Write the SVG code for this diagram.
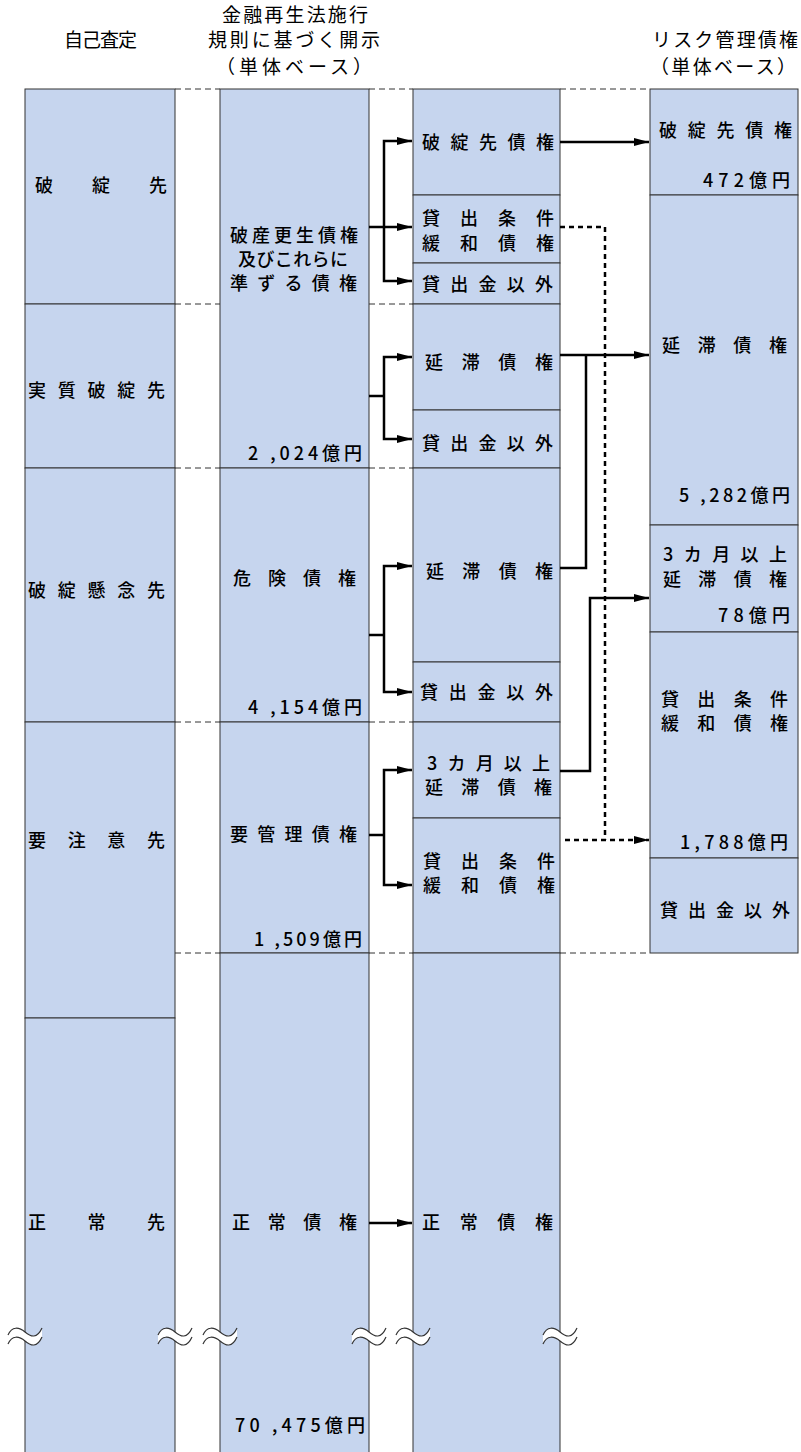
<svg xmlns="http://www.w3.org/2000/svg" xmlns:xlink="http://www.w3.org/1999/xlink" width="801" height="1452" viewBox="0 0 801 1452">
<style>
.t{font-family:"Noto Sans CJK JP","Noto Sans",sans-serif;font-size:18px;font-weight:500;fill:#000}
.h{font-size:19px;font-weight:400}
.box{fill:#c6d5ee;stroke:#333;stroke-width:1}
.dash{stroke:#333;stroke-width:1;stroke-dasharray:6 4;fill:none}
.con{fill:none;stroke:#000;stroke-width:2.5;stroke-linejoin:miter}
.dot{fill:none;stroke:#000;stroke-width:2.5;stroke-dasharray:5 4}
.brkfill{fill:#fff;stroke:none}
.brkline{fill:none;stroke:#333;stroke-width:1.2}
</style>
<defs>
<marker id="ah" markerUnits="userSpaceOnUse" markerWidth="16" markerHeight="10" refX="15" refY="5" orient="auto">
<path d="M0,1 L15,5 L0,9 Z" fill="#000"/>
</marker>
<g id="brk">
<path class="brkfill" d="M-17,-1 C-13,-10 -6,-9 0,-4 C6,1 12,3 17,-8 L17,1 C12,12 6,10 0,5 C-6,0 -13,-1 -17,8 Z"/>
<path class="brkline" d="M-17,-1 C-13,-10 -6,-9 0,-4 C6,1 12,3 17,-8"/>
<path class="brkline" d="M-17,8 C-13,-1 -6,0 0,5 C6,10 12,12 17,1"/>
</g>
</defs>

<g id="headers" class="t h">
<text x="64" y="47" textLength="73">自己査定</text>
<text x="222" y="22" textLength="146">金融再生法施行</text>
<text x="208" y="47" textLength="172">規則に基づく開示</text>
<text x="216" y="74" textLength="156">（単体ベース）</text>
<text x="652" y="47" textLength="146">リスク管理債権</text>
<text x="650" y="74" textLength="146">（単体ベース）</text>
</g>

<g id="guides">
<path class="dash" d="M175,89 H220 M369,89 H413 M560,89 H650"/>
<path class="dash" d="M175,304 H220 M369,304 H413"/>
<path class="dash" d="M175,468 H220 M369,468 H413"/>
<path class="dash" d="M175,722 H220 M369,722 H413"/>
<path class="dash" d="M175,953 H220 M369,953 H413 M560,953 H650"/>
</g>

<!-- column 1 -->
<g id="c1-hatan"><rect class="box" x="25" y="89" width="150" height="215"/><text class="t" x="35" y="192" textLength="132">破綻先</text></g>
<g id="c1-jisshitsu"><rect class="box" x="25" y="304" width="150" height="164"/><text class="t" x="28" y="397" textLength="137">実質破綻先</text></g>
<g id="c1-kenen"><rect class="box" x="25" y="468" width="150" height="254"/><text class="t" x="28" y="597" textLength="137">破綻懸念先</text></g>
<g id="c1-youchui"><rect class="box" x="25" y="722" width="150" height="296"/><text class="t" x="28" y="847" textLength="137">要注意先</text></g>
<g id="c1-seijou"><rect class="box" x="25" y="1018" width="150" height="445"/><text class="t" x="28" y="1229" textLength="137">正常先</text></g>

<!-- column 2 -->
<g id="c2-hasan"><rect class="box" x="220" y="89" width="149" height="379"/>
<text class="t" x="230" y="242" textLength="128">破産更生債権</text>
<text class="t" x="238" y="266" textLength="110">及びこれらに</text>
<text class="t" x="230" y="290" textLength="127">準ずる債権</text>
<text class="t" x="248" y="460" textLength="114">2 ,024億円</text></g>
<g id="c2-kiken"><rect class="box" x="220" y="468" width="149" height="254"/>
<text class="t" x="233" y="585" textLength="123">危険債権</text>
<text class="t" x="248" y="714" textLength="114">4 ,154億円</text></g>
<g id="c2-youkanri"><rect class="box" x="220" y="722" width="149" height="231"/>
<text class="t" x="230" y="841" textLength="127">要管理債権</text>
<text class="t" x="254" y="946" textLength="108">1 ,509億円</text></g>
<g id="c2-seijou"><rect class="box" x="220" y="953" width="149" height="510"/>
<text class="t" x="232" y="1229" textLength="125">正常債権</text>
<text class="t" x="235" y="1432" textLength="130">70 ,475億円</text></g>

<!-- column 3 -->
<g id="c3-hatan"><rect class="box" x="413" y="89" width="147" height="106"/><text class="t" x="422" y="149" textLength="132">破綻先債権</text></g>
<g id="c3-kanwa1"><rect class="box" x="413" y="195" width="147" height="68"/><text class="t" x="422" y="225" textLength="132">貸出条件</text><text class="t" x="422" y="250" textLength="132">緩和債権</text></g>
<g id="c3-igai1"><rect class="box" x="413" y="263" width="147" height="41"/><text class="t" x="422" y="291" textLength="131">貸出金以外</text></g>
<g id="c3-entai1"><rect class="box" x="413" y="304" width="147" height="106"/><text class="t" x="425" y="369" textLength="128">延滞債権</text></g>
<g id="c3-igai2"><rect class="box" x="413" y="410" width="147" height="58"/><text class="t" x="422" y="450" textLength="131">貸出金以外</text></g>
<g id="c3-entai2"><rect class="box" x="413" y="468" width="147" height="194"/><text class="t" x="426" y="578" textLength="127">延滞債権</text></g>
<g id="c3-igai3"><rect class="box" x="413" y="662" width="147" height="60"/><text class="t" x="420" y="699" textLength="133">貸出金以外</text></g>
<g id="c3-3kagetsu"><rect class="box" x="413" y="722" width="147" height="96"/><text class="t" x="427" y="770" textLength="123">3カ月以上</text><text class="t" x="425" y="794" textLength="127">延滞債権</text></g>
<g id="c3-kanwa2"><rect class="box" x="413" y="818" width="147" height="135"/><text class="t" x="423" y="868" textLength="132">貸出条件</text><text class="t" x="423" y="892" textLength="132">緩和債権</text></g>
<g id="c3-seijou"><rect class="box" x="413" y="953" width="147" height="510"/><text class="t" x="422" y="1229" textLength="131">正常債権</text></g>

<!-- column 4 -->
<g id="c4-hatan"><rect class="box" x="650" y="89" width="148" height="106"/><text class="t" x="659" y="137" textLength="133">破綻先債権</text><text class="t" x="703" y="187" textLength="87">472億円</text></g>
<g id="c4-entai"><rect class="box" x="650" y="195" width="148" height="330"/><text class="t" x="662" y="352" textLength="125">延滞債権</text><text class="t" x="679" y="502" textLength="111">5 ,282億円</text></g>
<g id="c4-3kagetsu"><rect class="box" x="650" y="525" width="148" height="107"/><text class="t" x="663" y="561" textLength="124">3カ月以上</text><text class="t" x="663" y="586" textLength="124">延滞債権</text><text class="t" x="718" y="622" textLength="72">78億円</text></g>
<g id="c4-kanwa"><rect class="box" x="650" y="632" width="148" height="226"/><text class="t" x="661" y="706" textLength="127">貸出条件</text><text class="t" x="661" y="730" textLength="127">緩和債権</text><text class="t" x="680" y="849" textLength="108">1,788億円</text></g>
<g id="c4-igai"><rect class="box" x="650" y="858" width="148" height="95"/><text class="t" x="660" y="917" textLength="130">貸出金以外</text></g>

<!-- connectors -->
<g id="connectors">
<path class="con" d="M369,227 H412" marker-end="url(#ah)"/>
<path class="con" d="M384,227 V141 H412" marker-end="url(#ah)"/>
<path class="con" d="M384,227 V281 H412" marker-end="url(#ah)"/>
<path class="con" d="M369,396 H384"/>
<path class="con" d="M384,396 V357 H412" marker-end="url(#ah)"/>
<path class="con" d="M384,396 V439 H412" marker-end="url(#ah)"/>
<path class="con" d="M369,635 H384"/>
<path class="con" d="M384,635 V566 H412" marker-end="url(#ah)"/>
<path class="con" d="M384,635 V692 H412" marker-end="url(#ah)"/>
<path class="con" d="M369,835 H384"/>
<path class="con" d="M384,835 V770 H412" marker-end="url(#ah)"/>
<path class="con" d="M384,835 V885 H412" marker-end="url(#ah)"/>
<path class="con" d="M369,1223 H412" marker-end="url(#ah)"/>
<path class="con" d="M560,142 H649" marker-end="url(#ah)"/>
<path class="con" d="M560,355 H649" marker-end="url(#ah)"/>
<path class="con" d="M560,568 H586 V355"/>
<path class="con" d="M560,771 H590 V598 H649" marker-end="url(#ah)"/>
<path class="dot" d="M560,227 H605 V840"/>
<path class="dot" d="M565,840 H649" marker-end="url(#ah)"/>
</g>

<!-- break marks -->
<g id="breaks">
<use xlink:href="#brk" x="25" y="1336"/>
<use xlink:href="#brk" x="175" y="1336"/>
<use xlink:href="#brk" x="220" y="1336"/>
<use xlink:href="#brk" x="369" y="1336"/>
<use xlink:href="#brk" x="413" y="1336"/>
<use xlink:href="#brk" x="560" y="1336"/>
</g>
</svg>
